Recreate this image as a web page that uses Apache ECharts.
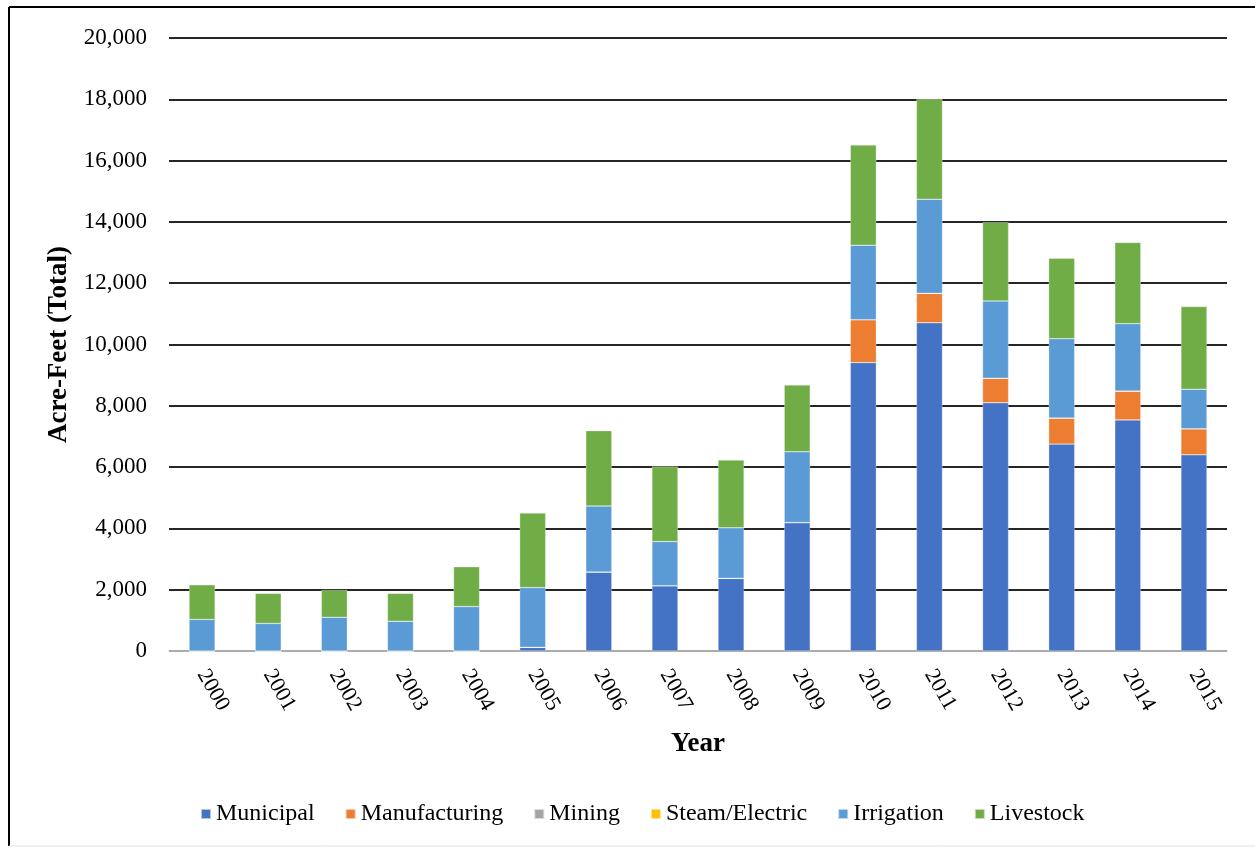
<!DOCTYPE html>
<html>
<head>
<meta charset="utf-8">
<script src="https://cdn.jsdelivr.net/npm/echarts@6/dist/echarts.min.js"></script>
<style>
  html, body { margin: 0; padding: 0; background: #fff; }
  #chart { width: 1255px; height: 849px; }
</style>
</head>
<body>
<div id="chart"></div>
<script>
// values (acre-feet)
var years = ['2000', '2001', '2002', '2003', '2004', '2005', '2006', '2007',
  '2008', '2009', '2010', '2011', '2012', '2013', '2014', '2015'];
var municipal = [0, 0, 0, 0, 0, 120, 2580, 2130, 2370, 4190, 9410, 10710, 8100, 6750, 7540, 6400];
var manufacturing = [0, 0, 0, 0, 0, 0, 0, 0, 0, 0, 1400, 960, 800, 850, 940, 850];
var mining = [0, 0, 0, 0, 0, 0, 0, 0, 0, 0, 0, 0, 0, 0, 0, 0];
var steamElectric = [0, 0, 0, 0, 0, 0, 0, 0, 0, 0, 0, 0, 0, 0, 0, 0];
var irrigation = [1030, 900, 1100, 970, 1450, 1950, 2150, 1440, 1650, 2310, 2430, 3070, 2520, 2590, 2200, 1290];
var livestock = [1130, 980, 890, 910, 1300, 2430, 2460, 2450, 2210, 2180, 3270, 3270, 2570, 2620, 2650, 2700];

var serif = '"Liberation Serif", "DejaVu Serif", serif';

function barSeries(name, data, color) {
	return {
		name: name,
		type: 'bar',
		stack: 'total',
		barWidth: 26,
		data: data,
		itemStyle: { color: color, borderColor: 'rgba(255,255,255,0.6)', borderWidth: 0.5 }
	};
}

var myChart = echarts.init(document.getElementById('chart'));
var option = {
	backgroundColor: '#fff',
	animation: false,
	grid: { left: 169, right: 28, top: 38, bottom: 198 },
	legend: {
		top: 797,
		left: 195,
		icon: 'rect',
		itemWidth: 10,
		itemHeight: 10,
		itemGap: 30,
		textStyle: { fontFamily: serif, fontSize: 24, color: '#000' },
		data: ['Municipal', 'Manufacturing', 'Mining', 'Steam/Electric', 'Irrigation', 'Livestock']
	},
	xAxis: {
		type: 'category',
		data: years,
		name: 'Year',
		nameLocation: 'middle',
		nameGap: 80,
		nameTextStyle: { fontFamily: serif, fontSize: 27, fontWeight: 'bold', color: '#000' },
		axisLine: { lineStyle: { color: '#d9d9d9', width: 1.5 } },
		axisTick: { show: false },
		axisLabel: { rotate: -60, fontFamily: serif, fontSize: 22, color: '#000', margin: 20 }
	},
	yAxis: {
		type: 'value',
		min: 0,
		max: 20000,
		interval: 2000,
		name: 'Acre-Feet (Total)',
		nameLocation: 'middle',
		nameGap: 88,
		nameTextStyle: { fontFamily: serif, fontSize: 27, fontWeight: 'bold', color: '#000' },
		axisLine: { show: false },
		axisTick: { show: false },
		axisLabel: {
			fontFamily: serif, fontSize: 23, color: '#000', margin: 22,
			formatter: function (v) { return v.toLocaleString('en-US'); }
		},
		splitLine: { lineStyle: { color: '#262626', width: 2 } }
	},
	graphic: [
		{ type: 'line', shape: { x1: 9, y1: 7, x2: 1255, y2: 7 }, style: { stroke: '#000', lineWidth: 2 } },
		{ type: 'line', shape: { x1: 9, y1: 7, x2: 9, y2: 846 }, style: { stroke: '#000', lineWidth: 2 } },
		{ type: 'line', shape: { x1: 9, y1: 846, x2: 1255, y2: 846 }, style: { stroke: '#e0e0e0', lineWidth: 1 } }
	],
	series: [
		barSeries('Municipal', municipal, '#4472C4'),
		barSeries('Manufacturing', manufacturing, '#ED7D31'),
		barSeries('Mining', mining, '#A5A5A5'),
		barSeries('Steam/Electric', steamElectric, '#FFC000'),
		barSeries('Irrigation', irrigation, '#5B9BD5'),
		barSeries('Livestock', livestock, '#70AD47')
	]
};
myChart.setOption(option);
</script>
</body>
</html>
